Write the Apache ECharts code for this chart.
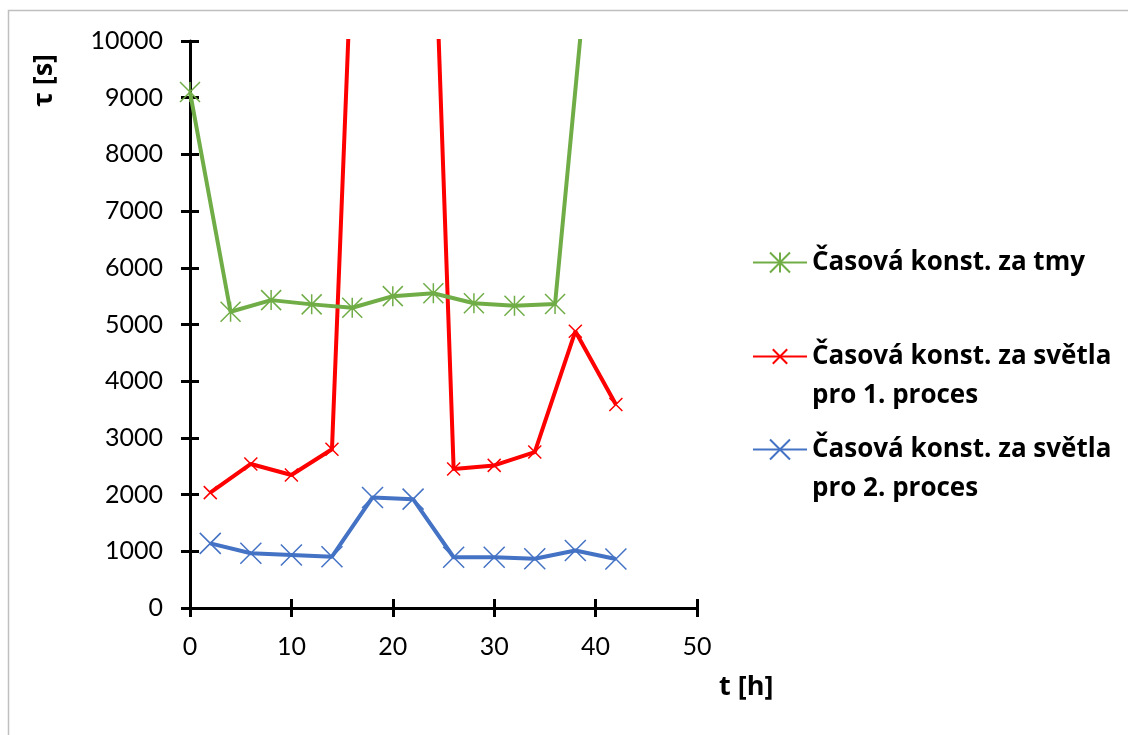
<!DOCTYPE html>
<html>
<head>
<meta charset="utf-8">
<script src="https://cdn.jsdelivr.net/npm/echarts@6/dist/echarts.min.js"></script>
<style>
html,body{margin:0;padding:0;background:#fff;}
#chart{width:1128px;height:735px;}
</style>
</head>
<body>
<div id="chart"></div>
<script>
// ---- data ----
const seriesNames = ['Časová konst. za tmy', 'Časová konst. za světla pro 1. proces', 'Časová konst. za světla pro 2. proces'];
const legendLabels = ['Časová konst. za tmy', 'Časová konst. za světla\npro 1. proces', 'Časová konst. za světla\npro 2. proces'];
const darkX = [0, 4, 8, 12, 16, 20, 24, 28, 32, 36, 40];
const darkY = [9100, 5225, 5430, 5355, 5295, 5500, 5550, 5375, 5330, 5360, 12900];
const light1X = [2, 6, 10, 14, 18, 22, 26, 30, 34, 38, 42];
const light1Y = [2035, 2540, 2345, 2800, 20800, 23000, 2450, 2515, 2750, 4880, 3590];
const light2X = [2, 6, 10, 14, 18, 22, 26, 30, 34, 38, 42];
const light2Y = [1140, 965, 935, 905, 1950, 1920, 895, 895, 870, 1015, 865];
const xTicks = [0, 10, 20, 30, 40, 50];
const yTicks = [0, 1000, 2000, 3000, 4000, 5000, 6000, 7000, 8000, 9000, 10000];
const xTitle = 't [h]';
const yTitle = 'τ [s]';

const pair = (xs, ys) => xs.map((x, i) => [x, ys[i]]);
const FONT = 'Lato';
const BFONT = 'Open Sans';
const colors = ['#70AD47', '#FF0000', '#4472C4'];
const STAR = 'path://M0,0L10,10M10,0L0,10M5,0L5,10';
const CROSS = 'path://M0,0L10,10M10,0L0,10';

const axisCommonX = {
  type: 'value', min: xTicks[0], max: xTicks[xTicks.length - 1], interval: 10,
  splitLine: { show: false }
};
const axisCommonY = {
  type: 'value', min: yTicks[0], max: yTicks[yTicks.length - 1], interval: 1000,
  splitLine: { show: false }
};

function mkSeries(i, data, symbol, size) {
  return {
    name: seriesNames[i], type: 'line', data: data,
    xAxisIndex: 0, yAxisIndex: 0,
    symbol: symbol, symbolSize: size,
    clip: true,
    lineStyle: { color: colors[i], width: 4 },
    itemStyle: { color: colors[i], borderColor: colors[i], borderWidth: 1.5 },
    emphasis: { disabled: true },
    z: 3 - i
  };
}

function mkLegend(i, top, itemH) {
  const multi = legendLabels[i].indexOf('\n') >= 0;
  return {
    data: [seriesNames[i]],
    left: 752, top: top, padding: 0,
    orient: 'vertical',
    itemWidth: 54, itemHeight: itemH,
    selectedMode: false,
    formatter: () => (multi ? ' \n' : '') + legendLabels[i],
    textStyle: {
      fontFamily: BFONT, fontSize: 26, fontWeight: 'bold', color: '#000',
      lineHeight: 39
    }
  };
}

const chart = echarts.init(document.getElementById('chart'), null, { renderer: 'canvas' });
chart.setOption({
  backgroundColor: '#fff',
  animation: false,
  grid: { left: 190, right: 431, top: 41, bottom: 127, containLabel: false },
  xAxis: [
    Object.assign({}, axisCommonX, {
      position: 'bottom',
      axisLine: { show: true, onZero: false, lineStyle: { color: '#000', width: 3 } },
      axisTick: { show: true, length: 9, lineStyle: { color: '#000', width: 3 } },
      axisLabel: { fontFamily: FONT, fontSize: 25, color: '#000', margin: 26 },
      name: xTitle, nameLocation: 'end', nameGap: 22,
      nameTextStyle: { fontFamily: BFONT, fontSize: 27, fontWeight: 'bold', color: '#000',
        align: 'left', verticalAlign: 'top', padding: [66, 0, 0, 0] }
    }),
    Object.assign({}, axisCommonX, {
      position: 'bottom',
      axisLine: { show: false, onZero: false },
      axisTick: { show: true, inside: true, length: 9, lineStyle: { color: '#000', width: 3 } },
      axisLabel: { show: false }
    })
  ],
  yAxis: [
    Object.assign({}, axisCommonY, {
      position: 'left',
      axisLine: { show: true, onZero: false, lineStyle: { color: '#000', width: 3 } },
      axisTick: { show: true, length: 9, lineStyle: { color: '#000', width: 3 } },
      axisLabel: { fontFamily: FONT, fontSize: 25, color: '#000', margin: 27,
        formatter: (v) => String(v) }
    }),
    Object.assign({}, axisCommonY, {
      position: 'left',
      axisLine: { show: false, onZero: false },
      axisTick: { show: true, inside: true, length: 9, lineStyle: { color: '#000', width: 3 } },
      axisLabel: { show: false }
    })
  ],
  legend: [
    mkLegend(0, 243, 25),
    mkLegend(1, 298, 18),
    mkLegend(2, 391, 25)
  ],
  graphic: [
    { type: 'rect', silent: true, z: -10,
      shape: { x: 8.5, y: 10.5, width: 1200, height: 800 },
      style: { fill: 'none', stroke: '#BFBFBF', lineWidth: 1.5 } },
    { type: 'text', silent: true, left: 31, top: 54, rotation: Math.PI / 2,
      style: { text: yTitle, fontFamily: BFONT, fontSize: 27, fontWeight: 'bold', fill: '#000' } }
  ],
  series: [
    mkSeries(0, pair(darkX, darkY), STAR, 20),
    mkSeries(1, pair(light1X, light1Y), CROSS, 13),
    mkSeries(2, pair(light2X, light2Y), CROSS, 21)
  ]
});
</script>
</body>
</html>
